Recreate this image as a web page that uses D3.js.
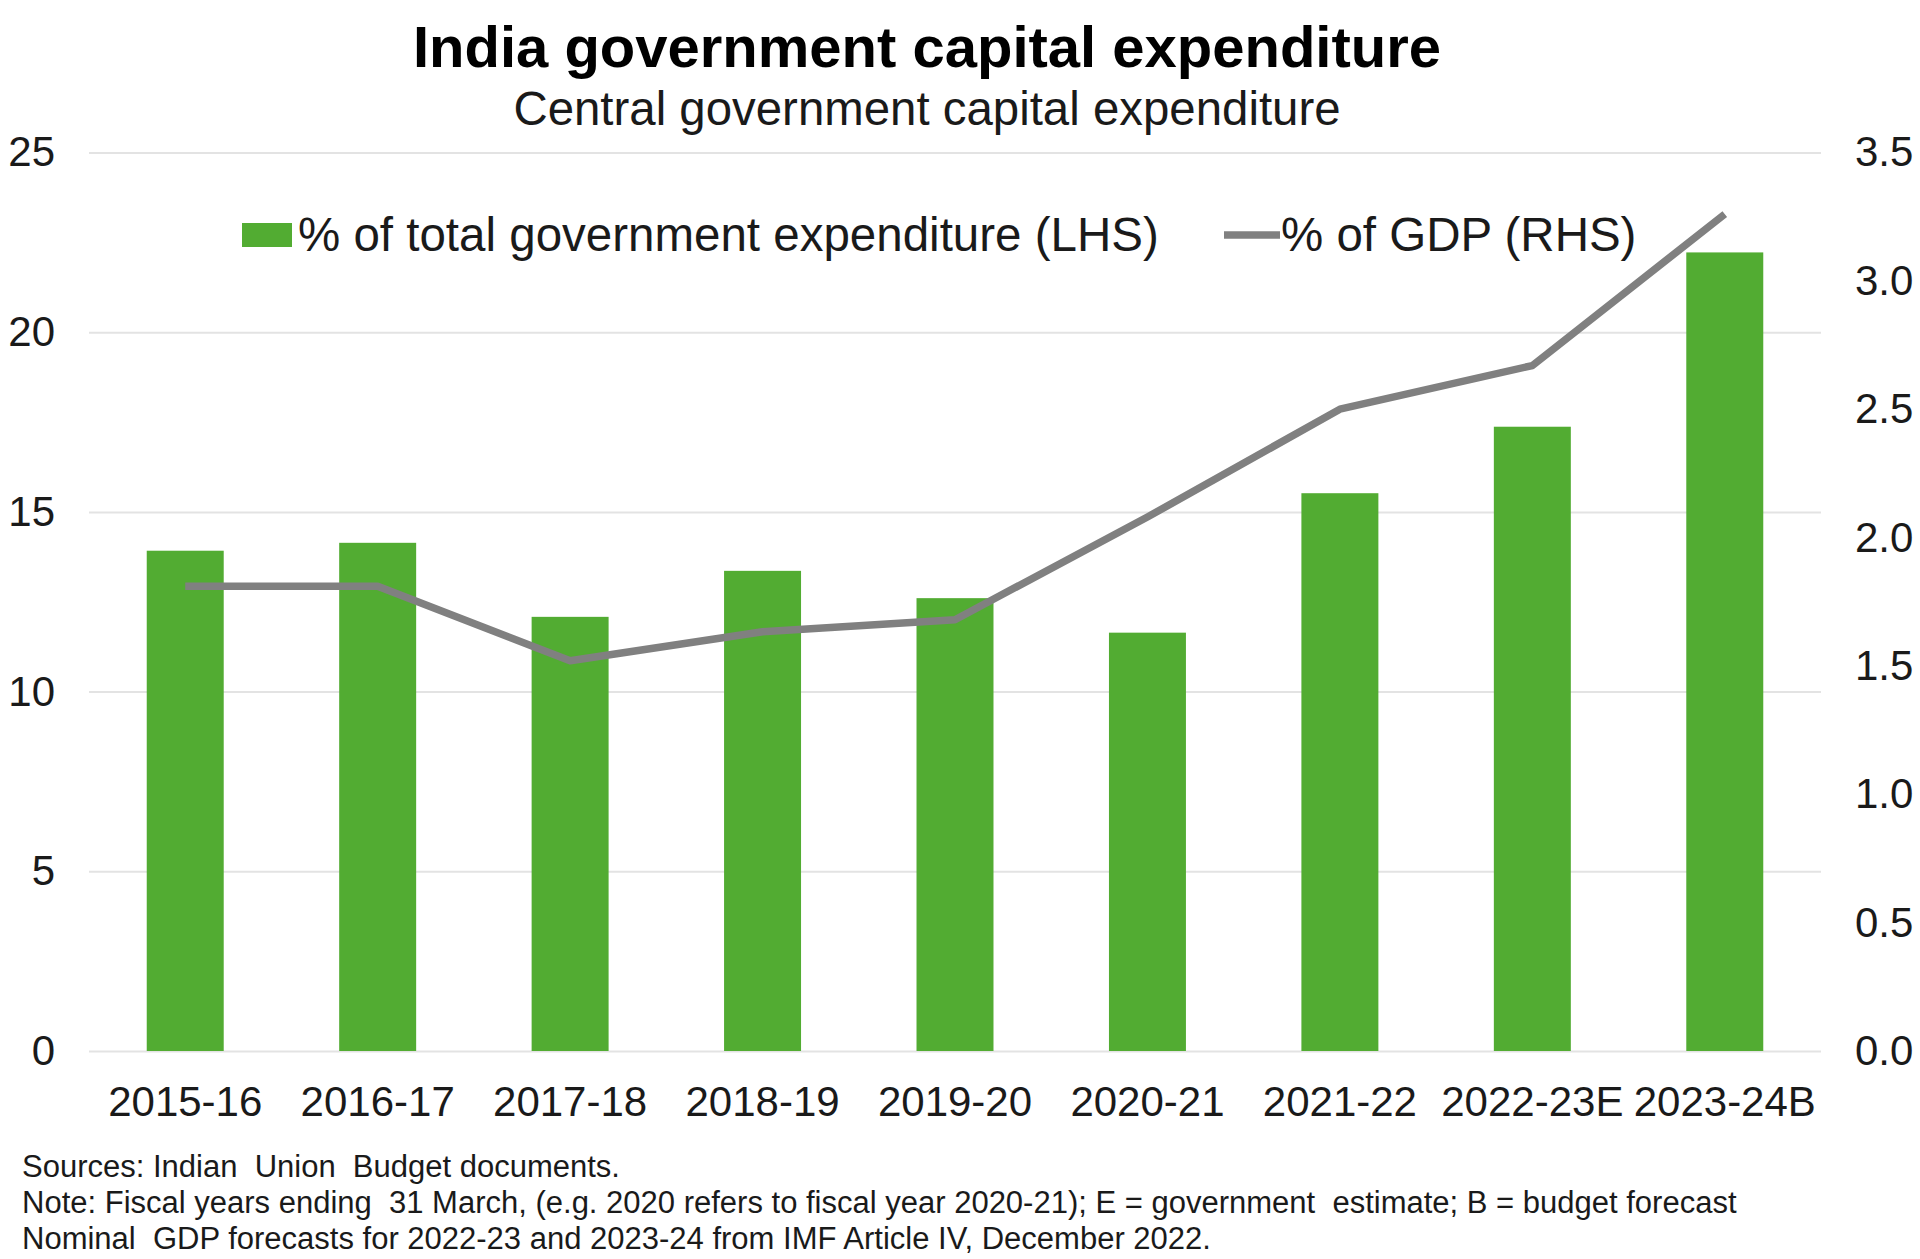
<!DOCTYPE html>
<html>
<head>
<meta charset="utf-8">
<script src="https://cdn.jsdelivr.net/npm/d3@7"></script>
<style>
  body { margin: 0; background: #fff; }
  svg { display: block; font-family: "Liberation Sans", Arial, sans-serif; }
</style>
</head>
<body>
<svg id="chart" width="1920" height="1259"></svg>
<script>
// Data
const years = ["2015-16", "2016-17", "2017-18", "2018-19", "2019-20", "2020-21", "2021-22", "2022-23E", "2023-24B"];
const shareOfSpending = [13.92, 14.14, 12.08, 13.36, 12.6, 11.64, 15.52, 17.37, 22.22];
const shareOfGdp = [1.81, 1.81, 1.52, 1.633, 1.68, 2.08, 2.5, 2.67, 3.26];
const leftTicks = [0, 5, 10, 15, 20, 25];
const rightTicks = [0, 0.5, 1, 1.5, 2, 2.5, 3, 3.5];
const footnotes = [
    "Sources: Indian  Union  Budget documents.",
    "Note: Fiscal years ending  31 March, (e.g. 2020 refers to fiscal year 2020-21); E = government  estimate; B = budget forecast",
    "Nominal  GDP forecasts for 2022-23 and 2023-24 from IMF Article IV, December 2022."
];

const svg = d3.select("#chart");
const green = "#52ac32";
const grey = "#808080";
const textColor = "#1a1a1a";

const plotLeft = 89, plotRight = 1821, plotTop = 152.5, plotBottom = 1051;

const x = d3.scaleBand()
    .domain(years)
    .range([plotLeft, plotRight])
    .paddingInner(0.6)
    .paddingOuter(0.3);

const yL = d3.scaleLinear().domain([0, 25]).range([plotBottom, plotTop]);
const yR = d3.scaleLinear().domain([0, 3.5]).range([plotBottom, plotTop]);

// Titles
svg.append("text")
    .attr("x", 927).attr("y", 67)
    .attr("text-anchor", "middle")
    .style("font-size", "58px").style("font-weight", "bold")
    .style("fill", "#000")
    .text("India government capital expenditure");

svg.append("text")
    .attr("x", 927).attr("y", 125)
    .attr("text-anchor", "middle")
    .style("font-size", "47.4px")
    .style("fill", textColor)
    .text("Central government capital expenditure");

// Left axis with gridlines
const leftAxis = svg.append("g")
    .attr("transform", `translate(${plotLeft},0)`)
    .call(d3.axisLeft(yL).tickValues(leftTicks).tickSize(-(plotRight - plotLeft)).tickPadding(34));
leftAxis.select(".domain").remove();
leftAxis.selectAll(".tick line").attr("stroke", "#e3e3e3").attr("stroke-width", 2);
leftAxis.selectAll(".tick text")
    .style("font-size", "42px").style("font-family", "Liberation Sans, Arial, sans-serif")
    .attr("fill", textColor);

// Right axis (labels only)
const rightAxis = svg.append("g")
    .attr("transform", `translate(${plotRight},0)`)
    .call(d3.axisRight(yR).tickValues(rightTicks).tickFormat(d3.format(".1f")).tickSize(0).tickPadding(34));
rightAxis.select(".domain").remove();
rightAxis.selectAll(".tick text")
    .style("font-size", "42px").style("font-family", "Liberation Sans, Arial, sans-serif")
    .attr("fill", textColor);

// Bottom axis (labels only)
const bottomAxis = svg.append("g")
    .attr("transform", `translate(0,${plotBottom})`)
    .call(d3.axisBottom(x).tickSize(0).tickPadding(35));
bottomAxis.select(".domain").remove();
bottomAxis.selectAll(".tick text")
    .style("font-size", "42px").style("font-family", "Liberation Sans, Arial, sans-serif")
    .attr("fill", textColor);

// Bars
svg.append("g")
    .selectAll("rect")
    .data(years)
    .enter()
    .append("rect")
    .attr("x", d => x(d))
    .attr("y", (d, i) => yL(shareOfSpending[i]))
    .attr("width", x.bandwidth())
    .attr("height", (d, i) => yL(0) - yL(shareOfSpending[i]))
    .attr("fill", green);

// Line on the right-hand scale
const line = d3.line()
    .x((d, i) => x(years[i]) + x.bandwidth() / 2)
    .y(d => yR(d));

svg.append("path")
    .datum(shareOfGdp)
    .attr("d", line)
    .attr("fill", "none")
    .attr("stroke", grey)
    .attr("stroke-width", 7.5)
    .attr("stroke-linejoin", "round");

// Legend
const legend = svg.append("g");
legend.append("rect")
    .attr("x", 242).attr("y", 223)
    .attr("width", 50).attr("height", 24)
    .attr("fill", green);
legend.append("text")
    .attr("x", 298).attr("y", 251)
    .style("font-size", "47.5px")
    .style("fill", textColor)
    .text("% of total government expenditure (LHS)");
legend.append("line")
    .attr("x1", 1224).attr("x2", 1280)
    .attr("y1", 235).attr("y2", 235)
    .attr("stroke", grey).attr("stroke-width", 7.5);
legend.append("text")
    .attr("x", 1281).attr("y", 251)
    .style("font-size", "47.5px")
    .style("fill", textColor)
    .text("% of GDP (RHS)");

// Footnotes
svg.append("g")
    .selectAll("text")
    .data(footnotes)
    .enter()
    .append("text")
    .attr("x", 22)
    .attr("y", (d, i) => 1177 + i * 36)
    .style("font-size", "31px")
    .style("fill", textColor)
    .style("white-space", "pre")
    .text(d => d);
</script>
</body>
</html>
